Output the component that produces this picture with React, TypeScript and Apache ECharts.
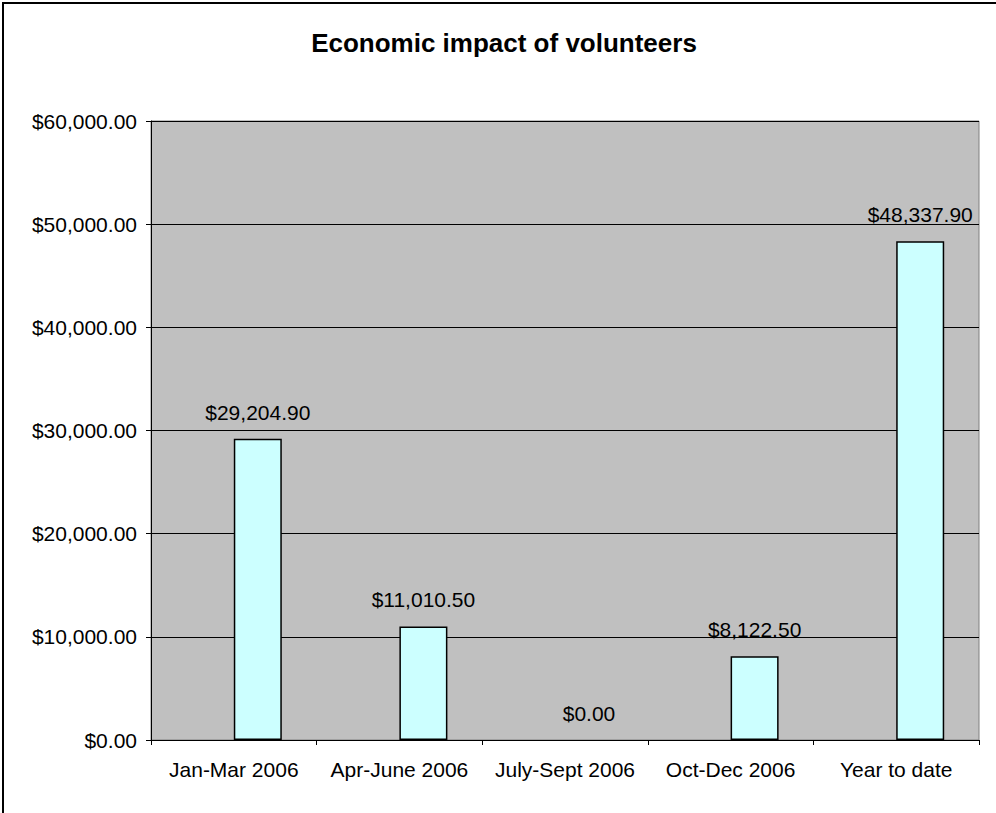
import React, { useEffect, useRef } from "react";
import * as echarts from "echarts";

const categories = ["Jan-Mar 2006", "Apr-June 2006", "July-Sept 2006", "Oct-Dec 2006", "Year to date"];
const emptySeries = ["-", "-", "-", "-", "-"];
const impactValues = [29204.9, 11010.5, 0, 8122.5, 48337.9];
const yMin = 0;
const yMax = 60000;
const yInterval = 10000;
const titleText = "Economic impact of volunteers";

const FONT = '"Liberation Sans", Arial, sans-serif';

const money = (v: number) =>
  "$" + v.toLocaleString("en-US", { minimumFractionDigits: 2, maximumFractionDigits: 2 });

export default function App() {
  const ref = useRef<HTMLDivElement>(null);
  useEffect(() => {
    if (!ref.current) return;
    const chart = echarts.init(ref.current, null, { renderer: "svg" });
    chart.setOption({
      animation: false,
      backgroundColor: "#ffffff",
      textStyle: { fontFamily: FONT },
      graphic: [
        {
          type: "rect",
          shape: { x: 3, y: 3, width: 1100, height: 900 },
          style: { fill: "none", stroke: "#000000", lineWidth: 2 },
          silent: true,
        },
        {
          type: "text",
          x: 504,
          y: 43,
          style: {
            text: titleText,
            fontFamily: FONT,
            fontSize: 26,
            fontWeight: "bold",
            fill: "#000000",
            textAlign: "center",
            textVerticalAlign: "middle",
          },
        },
      ],
      grid: {
        left: 151,
        top: 121,
        right: 17,
        bottom: 73,
        show: true,
        backgroundColor: "#c0c0c0",
        borderColor: "#808080",
        borderWidth: 1,
        containLabel: false,
      },
      xAxis: {
        type: "category",
        data: categories,
        boundaryGap: true,
        axisLine: { show: true, lineStyle: { color: "#000000", width: 1 } },
        axisTick: { show: true, length: 5, lineStyle: { color: "#000000" } },
        axisLabel: { color: "#000000", fontSize: 21, fontFamily: FONT, margin: 19, interval: 0 },
        splitLine: { show: false },
      },
      yAxis: {
        type: "value",
        min: yMin,
        max: yMax,
        interval: yInterval,
        axisLine: { show: true, lineStyle: { color: "#000000", width: 1 } },
        axisTick: { show: true, length: 5, lineStyle: { color: "#000000" } },
        axisLabel: {
          color: "#000000",
          fontSize: 21,
          fontFamily: FONT,
          margin: 14,
          formatter: (v: number) => money(v),
        },
        splitLine: { show: true, lineStyle: { color: "#000000", width: 1 } },
      },
      series: [
        {
          type: "bar",
          data: emptySeries,
          barWidth: 48,
          barGap: "0%",
          itemStyle: { color: "#ccffff" },
        },
        {
          type: "bar",
          data: impactValues.map((v) =>
            v === 0
              ? { value: v, itemStyle: { borderWidth: 0, color: "rgba(0,0,0,0)", borderColor: "rgba(0,0,0,0)" } }
              : v
          ),
          barWidth: 48,
          barGap: "0%",
          itemStyle: { color: "#ccffff", borderColor: "#000000", borderWidth: 1.5 },
          label: {
            show: true,
            position: "top",
            distance: 16,
            color: "#000000",
            fontSize: 21,
            fontFamily: FONT,
            formatter: (p: any) => money(p.value),
          },
        },
      ],
    });
    return () => chart.dispose();
  }, []);
  return (
    <div
      ref={ref}
      style={{ position: "fixed", left: 0, top: 0, width: 996, height: 813 }}
    />
  );
}
